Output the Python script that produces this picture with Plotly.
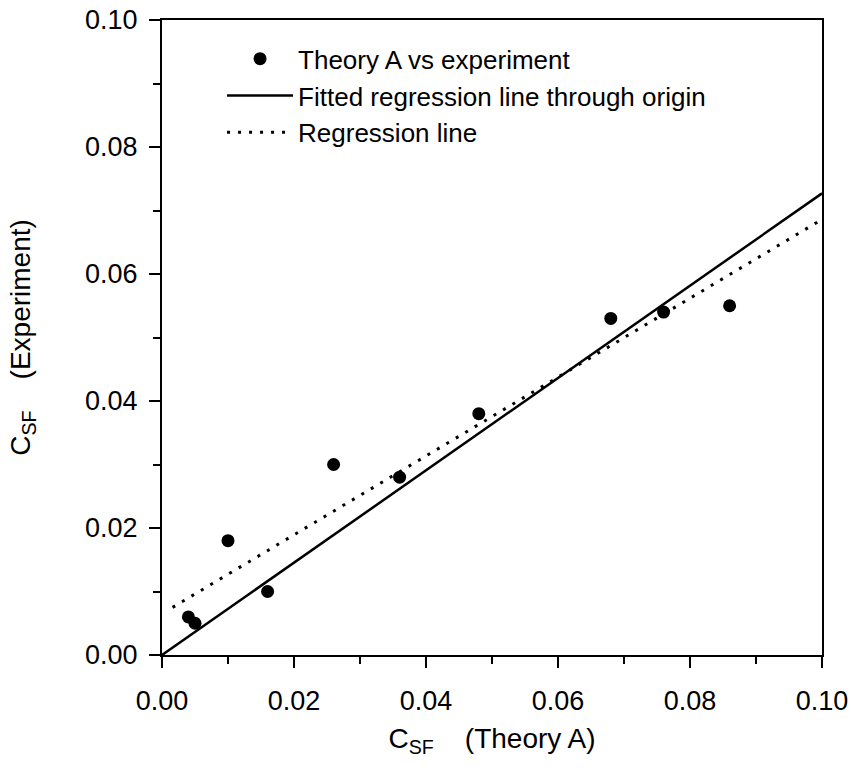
import plotly.graph_objects as go

# Data
theory_a = [0.004, 0.005, 0.010, 0.016, 0.026, 0.036, 0.048, 0.068, 0.076, 0.086]
experiment = [0.006, 0.005, 0.018, 0.010, 0.030, 0.028, 0.038, 0.053, 0.054, 0.055]

fit_origin_x = [0.0, 0.10]
fit_origin_y = [0.0, 0.0727]

regression_x = [0.0016, 0.10]
regression_y = [0.0075, 0.0686]

tick_vals = [0.00, 0.02, 0.04, 0.06, 0.08, 0.10]
tick_text = ["0.00", "0.02", "0.04", "0.06", "0.08", "0.10"]

FONT = "Liberation Sans, Arial, Helvetica, sans-serif"

fig = go.Figure()
fig.add_trace(go.Scatter(
    x=theory_a, y=experiment, mode="markers",
    name="Theory A vs experiment",
    marker=dict(color="black", size=13),
))
fig.add_trace(go.Scatter(
    x=fit_origin_x, y=fit_origin_y, mode="lines",
    name="Fitted regression line through origin",
    line=dict(color="black", width=2.5),
))
fig.add_trace(go.Scatter(
    x=regression_x, y=regression_y, mode="lines",
    name="Regression line",
    line=dict(color="black", width=3, dash="3px,8px"),
))

axis_common = dict(
    range=[0, 0.10],
    tickvals=tick_vals, ticktext=tick_text,
    ticks="outside", ticklen=11, tickwidth=1.5, tickcolor="black",
    minor=dict(dtick=0.01, tick0=0, ticks="outside", ticklen=7, tickwidth=1.5, tickcolor="black"),
    showline=True, linecolor="black", linewidth=2, mirror=True,
    showgrid=False, zeroline=False, automargin=False,
    tickfont=dict(family=FONT, size=27, color="black"),
)

fig.update_layout(
    width=851, height=775,
    margin=dict(l=162, r=29, t=20, b=120),
    paper_bgcolor="white", plot_bgcolor="white",
    font=dict(family=FONT, size=27, color="black"),
    showlegend=True,
    legend=dict(
        x=0.091, y=0.976, xanchor="left", yanchor="top",
        bgcolor="rgba(0,0,0,0)", borderwidth=0,
        font=dict(family=FONT, size=26, color="black"),
        tracegroupgap=0, itemwidth=66,
    ),
    xaxis=dict(
        **axis_common,
        ticklabelstandoff=10,
        title=dict(text="C<sub>SF</sub>&nbsp;&nbsp;&nbsp;&nbsp;(Theory A)", font=dict(family=FONT, size=28), standoff=13),
    ),
    yaxis=dict(
        **axis_common,
        ticklabelstandoff=6,
        title=dict(text="C<sub>SF</sub>&nbsp;&nbsp;&nbsp;&nbsp;(Experiment)", font=dict(family=FONT, size=28), standoff=46),
    ),
)

fig.write_html("out.html")
